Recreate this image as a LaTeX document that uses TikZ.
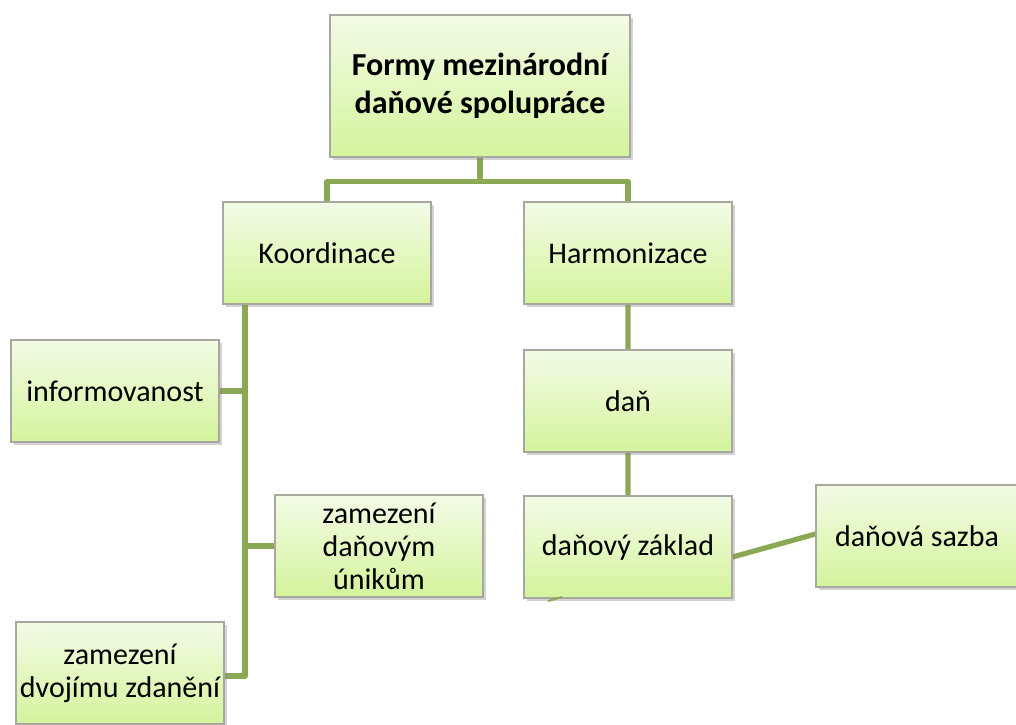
\documentclass[tikz,border=0pt]{standalone}
\usepackage{fontspec}
\setmainfont{Carlito}
\usetikzlibrary{shadows,backgrounds}
\definecolor{boxtop}{HTML}{F3FBE6}
\definecolor{boxbot}{HTML}{D4F49C}
\definecolor{boxline}{HTML}{A8A8A0}
\definecolor{linkgreen}{HTML}{8BA955}
\tikzset{
  formbox/.style={rectangle, draw=boxline, line width=0.6pt, top color=boxtop, bottom color=boxbot,
    align=center, inner sep=2pt, minimum width=104pt, minimum height=51pt,
    drop shadow={shadow xshift=1.5pt, shadow yshift=-1.5pt, opacity=0.35}},
  link/.style={draw=linkgreen, line width=2.6pt, line join=round, line cap=round}
}
\begin{document}
\begin{tikzpicture}[x=0.5pt, y=-0.5pt, font=\fontsize{15}{16.5}\selectfont]
			\useasboundingbox (0,0) rectangle (1016,724);
			\clip (0,0) rectangle (1016,724);
			% boxes
			\node[formbox, minimum width=150pt, minimum height=71pt, font=\fontsize{16}{19}\selectfont\bfseries] (top) at (480,86) {Formy mezinárodní\\daňové spolupráce};
			\node[formbox] (koord) at (327,253) {Koordinace};
			\node[formbox] (harm) at (628,253) {Harmonizace};
			\node[formbox] (info) at (115,391) {informovanost};
			\node[formbox] (unik) at (379,546) {zamezení\\daňovým\\únikům};
			\node[formbox] (dvoj) at (120,673) {zamezení\\dvojímu zdanění};
			\node[formbox] (dan) at (628,401) {daň};
			\node[formbox] (zaklad) at (628,547) {daňový základ};
			\node[formbox, minimum width=101pt] (sazba) at (917,536) {daňová sazba};
			\path (245,304) coordinate (kb)
			(548,601) coordinate (s1)
			(562,597) coordinate (s2);
			% connectors
			\begin{scope}[on background layer]
				\draw[link] (top.south) -- ++(0,24) coordinate (fork)
				(fork) -| (koord.north)
				(fork) -| (harm.north);
				\draw[link] (kb) -- ++(0,372) -- (dvoj.east |- 0,676);
				\draw[link] (kb |- info.east) -- (info.east)
				(kb |- unik.west) -- (unik.west);
				\draw[link] (harm.south) -- (dan.north)
				(dan.south) -- (zaklad.north)
				([yshift=-5pt]zaklad.east) -- ([yshift=1pt]sazba.west);
			\end{scope}
			\draw[linkgreen, line width=1pt] (s1) -- (s2);
		\end{tikzpicture}
\end{document}
